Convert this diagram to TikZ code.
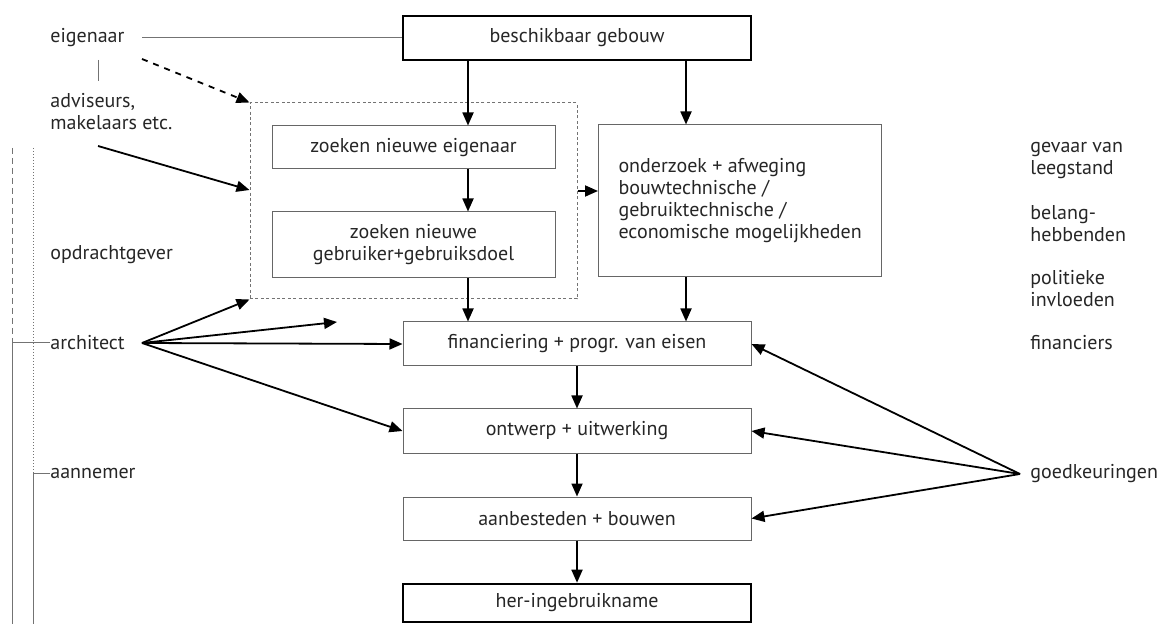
\documentclass[tikz,border=0pt]{standalone}
\usepackage{fontspec}
\setmainfont{PT Sans}
\usetikzlibrary{arrows.meta}

\begin{document}
\begin{tikzpicture}[x=0.5pt, y=-0.5pt, >={Triangle[length=6.5pt,width=5.5pt]},
  font=\fontsize{10}{11}\selectfont, text=black!85,
  stap/.style={draw=black!60, line width=0.5pt, inner sep=0pt, minimum width=174pt, align=center},
  hoofd/.style={stap, draw=black, line width=1.3pt},
  label/.style={inner sep=0pt, anchor=west, align=left},
  pijl/.style={->, line width=0.9pt},
  lijn/.style={draw=black!55, line width=0.5pt}]
\useasboundingbox (0,0) rectangle (1160,624);
\coordinate (kolA) at (468,0);
\coordinate (kolB) at (686,0);
\coordinate (lijnA) at (12,148);
\coordinate (lijnB) at (33,148);
\coordinate (bodem) at (0,624);
\coordinate (vrij) at (337,322);
% hoofdstappen
\node[hoofd, minimum height=22pt] (bg) at (577,38) {beschikbaar gebouw};
\node[draw=black!55, dash pattern=on 1.5pt off 1.2pt, line width=0.5pt, minimum width=163.5pt, minimum height=98pt, inner sep=0pt] (groep) at (413.5,201) {};
\node[stap, minimum width=141.5pt, minimum height=21.5pt] (zne) at (413.5,147.5) {zoeken nieuwe eigenaar};
\node[stap, minimum width=141.5pt, minimum height=33pt] (zng) at (413.5,245) {zoeken nieuwe\\gebruiker+gebruiksdoel};
\node[draw=black!60, line width=0.5pt, inner xsep=10pt, inner ysep=0pt, minimum height=76pt, anchor=west, align=left] (ond) at (598,201)
  {onderzoek + afweging\\bouwtechnische /\\gebruiktechnische /\\economische mogelijkheden};
\node[stap, minimum height=22pt] (fin) at (577,344) {financiering + progr. van eisen};
\node[stap, minimum height=22pt] (ont) at (577,431) {ontwerp + uitwerking};
\node[stap, minimum height=21.5pt] (aan) at (577,518.5) {aanbesteden + bouwen};
\node[hoofd, minimum height=19pt] (her) at (577,603) {her-ingebruikname};
% partijen links
\node[label] (eig) at (50,38) {eigenaar};
\node[label] (adv) at (50,112) {adviseurs,\\makelaars etc.};
\node[label] (opd) at (50,255) {opdrachtgever};
\node[label] (arch) at (50,343) {architect};
\node[label] (aann) at (50,473) {aannemer};
% invloeden rechts
\node[label] (gev) at (1030,161) {gevaar van\\leegstand};
\node[label] (bel) at (1030,224) {belang-\\hebbenden};
\node[label] (pol) at (1030,289) {politieke\\invloeden};
\node[label] (fnc) at (1030,343) {financiers};
\node[label] (goed) at (1030,474) {goedkeuringen};

\draw[lijn] ([shift={(92,0)}]eig.west) -- (bg.west);
\draw[lijn] ([shift={(48,22)}]eig.west) -- ++(0,21);
\draw[pijl, dashed] ([shift={(92,21)}]eig.west) -- (groep.north west);
\draw[pijl] ([shift={(48,34)}]adv.west) -- ([yshift=5.5pt]groep.west);

\draw[pijl] (bg.south -| kolA) -- (zne.north -| kolA);
\draw[pijl] (bg.south -| kolB) -- (ond.north -| kolB);
\draw[pijl] (zne.south -| kolA) -- (zng.north -| kolA);
\draw[pijl] ([yshift=5pt]groep.east) -- ([yshift=5pt]ond.west);
\draw[pijl] (zng.south -| kolA) -- (fin.north -| kolA);
\draw[pijl] (ond.south -| kolB) -- (fin.north -| kolB);
\draw[pijl] (fin) -- (ont);
\draw[pijl] (ont) -- (aan);
\draw[pijl] (aan) -- (her);

\foreach \doel in {groep.south west, vrij, fin.west, ont.west}
  \draw[pijl] ([shift={(92,0)}]arch.west) -- (\doel);
\foreach \doel in {fin.east, ont.east, aan.east}
  \draw[pijl] ([xshift=-5pt]goed.west) -- (\doel);

% lijnen opdrachtgever / aannemer
\draw[lijn, densely dashed] (lijnA) -- (lijnA |- arch.west);
\draw[lijn] (arch.west) -| (lijnA |- bodem);
\draw[lijn, densely dotted] (lijnB) -- (lijnB |- aann.west);
\draw[lijn] (aann.west) -| (lijnB |- bodem);
\end{tikzpicture}
\end{document}
